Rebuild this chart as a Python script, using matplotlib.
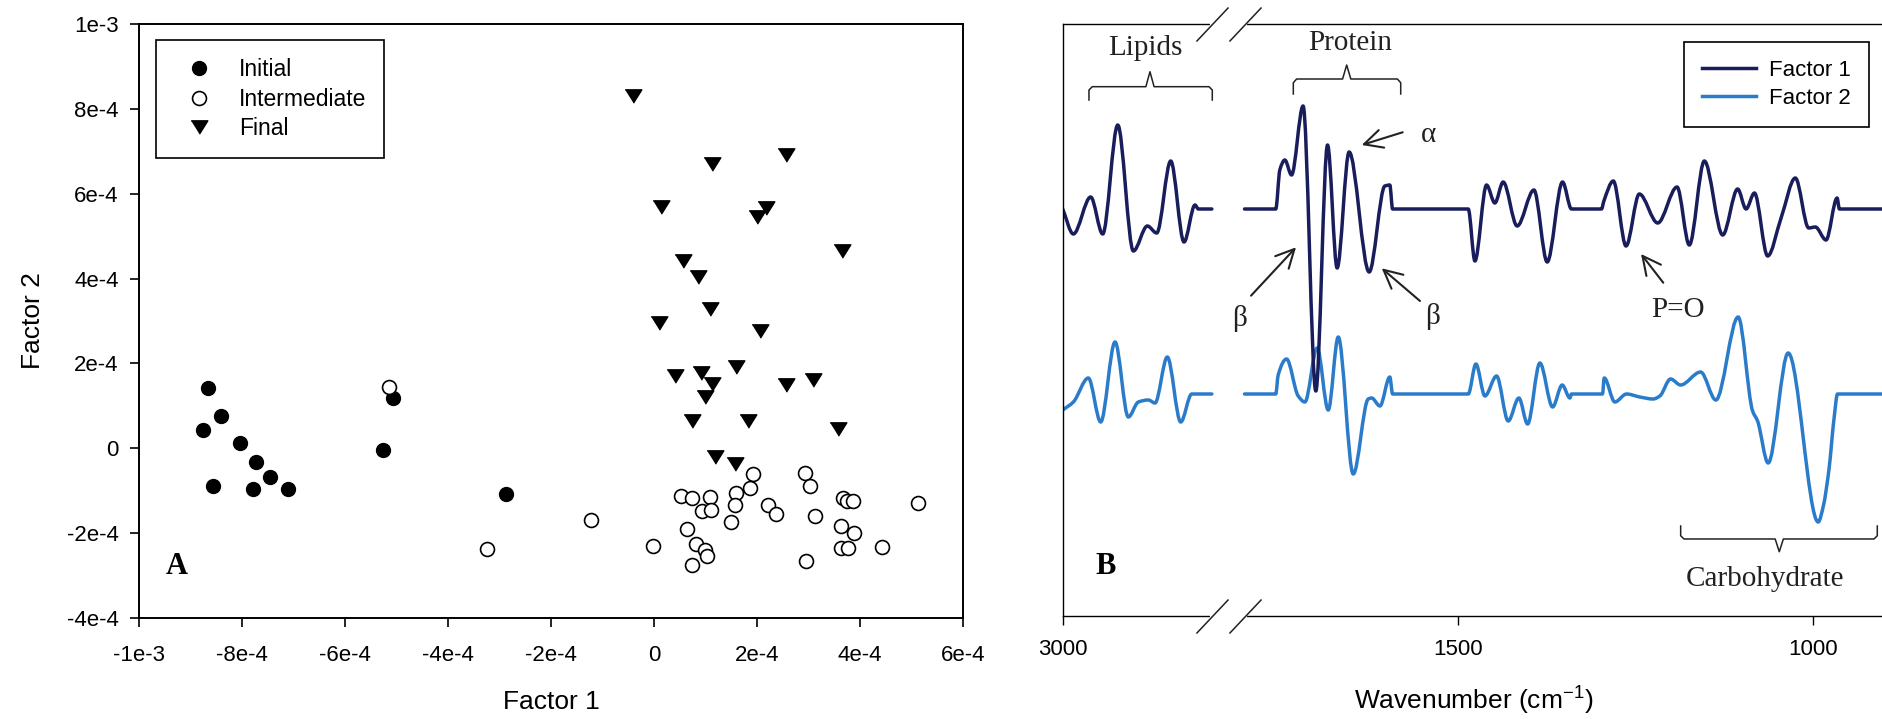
import numpy as np
import matplotlib.pyplot as plt
from matplotlib.path import Path
from matplotlib.patches import PathPatch
from matplotlib.lines import Line2D
from matplotlib.transforms import blended_transform_factory

plt.rcParams['font.family'] = ['Liberation Sans', 'DejaVu Sans']
plt.rcParams['mathtext.fontset'] = 'custom'
plt.rcParams['mathtext.rm'] = 'Liberation Sans'
plt.rcParams['mathtext.default'] = 'regular'

# ---------------- panel A: factor scores (units of 1e-4) ----------------
init_x = [-8.66, -8.40, -8.75, -8.04, -7.72, -7.45, -8.57, -7.78, -7.10, -5.27, -5.06, -2.88]
init_y = [1.41, 0.75, 0.44, 0.12, -0.33, -0.67, -0.90, -0.96, -0.96, -0.04, 1.18, -1.07]

inter_x = [-5.15, -3.25, -1.22, -0.01, 0.52, 0.74, 1.09, 0.94, 1.10, 0.65, 0.81, 1.00,
           1.03, 0.74, 1.59, 1.58, 1.49, 1.93, 1.86, 2.22, 2.36, 2.94, 3.03, 3.12,
           2.95, 3.67, 3.75, 3.86, 3.63, 3.89, 3.64, 3.77, 4.43, 5.13]
inter_y = [1.44, -2.38, -1.70, -2.31, -1.13, -1.16, -1.15, -1.48, -1.45, -1.91, -2.25, -2.40,
           -2.55, -2.76, -1.05, -1.33, -1.74, -0.60, -0.94, -1.34, -1.56, -0.59, -0.88, -1.60,
           -2.65, -1.17, -1.25, -1.25, -1.82, -2.00, -2.36, -2.35, -2.32, -1.30]

final_x = [-0.41, 1.13, 2.57, 0.14, 2.17, 2.00, 3.65, 0.57, 0.85, 1.09, 0.09, 2.06,
           1.60, 0.41, 0.92, 1.12, 0.99, 2.57, 3.08, 0.74, 1.83, 3.58, 1.18, 1.57]
final_y = [8.31, 6.71, 6.91, 5.68, 5.67, 5.44, 4.66, 4.42, 4.03, 3.29, 2.96, 2.76,
           1.91, 1.70, 1.78, 1.52, 1.20, 1.49, 1.60, 0.65, 0.65, 0.46, -0.20, -0.37]

a_xticks = [-10, -8, -6, -4, -2, 0, 2, 4, 6]
a_xlabels = ["-1e-3", "-8e-4", "-6e-4", "-4e-4", "-2e-4", "0", "2e-4", "4e-4", "6e-4"]
a_yticks = [-4, -2, 0, 2, 4, 6, 8, 10]
a_ylabels = ["-4e-4", "-2e-4", "0", "2e-4", "4e-4", "6e-4", "8e-4", "1e-3"]

# ---------------- panel B: factor loadings (arbitrary units) ----------------
# lipid region
wn_lip = [3000, 2985, 2960.6, 2943.7, 2922.5, 2900.5, 2880.8, 2867.6, 2847.9, 2829.2, 2813.7, 2809, 2790]
f1_lip = [0.0, -0.25, 0.12, -0.25, 0.84, -0.42, -0.17, -0.24, 0.48, -0.33, 0.04, 0.0, 0.0]
wn_lip2 = [3000, 2985, 2963.9, 2946.5, 2926.3, 2907.6, 2893.5, 2879.4, 2870, 2852.7, 2833.8, 2818.3, 2790]
f2_lip = [-0.16, -0.08, 0.16, -0.28, 0.52, -0.23, -0.08, -0.06, -0.09, 0.37, -0.28, 0.0, 0.0]

# fingerprint region
wn_fp1 = [1800, 1756, 1750.3, 1743.2, 1733.8, 1717.5, 1699.6, 1683.1, 1669.6, 1652.7,
          1624.5, 1602.4, 1595.4, 1591.5, 1485, 1475.6, 1459.2, 1447.5, 1435.8, 1416.1,
          1392.5, 1373.8, 1352.2, 1339.6, 1297.3, 1294, 1280.7, 1262.8, 1244.1, 1218.2,
          1191, 1173.7, 1152.5, 1126.7, 1105.6, 1093.8, 1082, 1063.4, 1044.5, 1024.4,
          1005.6, 996.2, 981.2, 965.6, 962.4, 900]
f1_fp = [0, 0, 0.39, 0.49, 0.34, 1.03, -1.82, 0.64, -0.59, 0.57,
         -0.63, 0.23, 0.24, 0, 0, -0.52, 0.24, 0.06, 0.27, -0.17,
         0.19, -0.53, 0.27, 0, 0, 0.08, 0.28, -0.37, 0.15, -0.14,
         0.22, -0.36, 0.48, -0.26, 0.20, 0.0, 0.16, -0.47, -0.09, 0.31,
         -0.19, -0.18, -0.31, 0.11, 0, 0]
wn_fp2 = [1800, 1756, 1752.6, 1740.8, 1724.4, 1715, 1697.7, 1682.1, 1668, 1646.9,
          1625.8, 1621, 1609.3, 1595.4, 1591.5, 1485, 1474.2, 1461.5, 1445.1, 1428.7,
          1413.7, 1401.4, 1384.1, 1366.2, 1352.7, 1341.8, 1339.6, 1296, 1293.5, 1278.6,
          1262.1, 1243.4, 1224.6, 1215.2, 1200.1, 1186, 1157.8, 1136.3, 1104.9, 1084.6,
          1077.6, 1062.7, 1034.5, 992.2, 985, 977, 970, 965, 900]
f2_fp = [0, 0, 0.19, 0.35, -0.02, -0.08, 0.46, -0.16, 0.57, -0.80,
         -0.05, -0.04, -0.12, 0.17, 0, 0, 0.30, -0.02, 0.18, -0.27,
         -0.04, -0.30, 0.31, -0.13, 0.09, -0.04, 0, 0, 0.16, -0.08,
         0.0, -0.03, -0.05, -0.02, 0.15, 0.09, 0.22, -0.06, 0.77, -0.17,
         -0.27, -0.69, 0.41, -1.28, -1.12, -0.75, -0.25, 0, 0]

b_xticks = [3000, 1500, 1000]
f1_offset, f2_offset = 4.07, 2.22
c_f1, c_f2 = '#191d5c', '#2a7cca'

fig = plt.figure(figsize=(18.83, 7.19), dpi=100)
W, H = 1883, 719

# ---------------- panel A ----------------
axA = fig.add_axes([139 / W, (H - 618) / H, 824 / W, 594 / H])
tri = [(-1, 0.8), (1, 0.8), (0, -0.8)]
axA.plot(init_x, init_y, 'o', ms=10, mfc='black', mec='black', ls='none', label='Initial')
axA.plot(inter_x, inter_y, 'o', ms=10, mfc='white', mec='black', mew=1.2, ls='none', label='Intermediate')
axA.plot(final_x, final_y, marker=tri, ms=12, mfc='black', mec='black', ls='none', label='Final')
axA.set_xlim(-10, 6)
axA.set_ylim(-4, 10)
axA.set_xticks(a_xticks, a_xlabels)
axA.set_yticks(a_yticks, a_ylabels)
axA.tick_params(direction='out', length=6.5, width=1.2, labelsize=16)
axA.tick_params(axis='x', pad=13)
axA.tick_params(axis='y', pad=8)
for s in axA.spines.values():
    s.set_linewidth(1.4)
axA.set_xlabel('Factor 1', fontsize=19, labelpad=17)
axA.set_ylabel('Factor 2', fontsize=19, labelpad=16)
leg = axA.legend(loc='upper left', bbox_to_anchor=(0.0206, 0.973), borderaxespad=0,
                 fontsize=16.5, frameon=True, fancybox=False, edgecolor='black',
                 framealpha=1, borderpad=0.8, labelspacing=0.27, handlelength=2.13,
                 handletextpad=0.68)
leg.get_frame().set_linewidth(1.2)
axA.text(0.046, 0.0875, 'A', transform=axA.transAxes, fontsize=22, fontweight='bold',
         family='Liberation Serif', ha='center', va='center')

# ---------------- panel B ----------------
def fwd(x):
    x = np.asarray(x, float)
    return np.where(x <= 1800, x, np.where(x >= 2790, x - 2790 + 1846, 1800 + (x - 1800) * 46 / 990))

def inv(u):
    u = np.asarray(u, float)
    return np.where(u <= 1800, u, np.where(u >= 1846, u + 2790 - 1846, 1800 + (u - 1800) * 990 / 46))

def smooth_path(x, y):
    # smooth line through the read points (monotone cubic Bezier segments)
    x = np.asarray(x, float)
    y = np.asarray(y, float)
    h = np.diff(x)
    d = np.diff(y) / h
    m = np.zeros_like(y)
    for i in range(1, len(y) - 1):
        if d[i - 1] * d[i] > 0:
            w1 = 2 * h[i] + h[i - 1]
            w2 = h[i] + 2 * h[i - 1]
            m[i] = (w1 + w2) / (w1 / d[i - 1] + w2 / d[i])
    m[0], m[-1] = d[0], d[-1]
    verts = [(x[0], y[0])]
    codes = [Path.MOVETO]
    for i in range(len(x) - 1):
        t = h[i] / 3
        verts += [(x[i] + t, y[i] + m[i] * t), (x[i + 1] - t, y[i + 1] - m[i + 1] * t), (x[i + 1], y[i + 1])]
        codes += [Path.CURVE4] * 3
    return Path(verts, codes)

axB = fig.add_axes([1062.7 / W, (H - 616) / H, 821 / W, 592 / H])
axB.set_xscale('function', functions=(fwd, inv))
for wn, vals, off, col in [(wn_lip2, f2_lip, f2_offset, c_f2), (wn_fp2, f2_fp, f2_offset, c_f2),
                           (wn_lip, f1_lip, f1_offset, c_f1), (wn_fp1, f1_fp, f1_offset, c_f1)]:
    axB.add_patch(PathPatch(smooth_path(wn, np.array(vals) + off), fill=False, edgecolor=col,
                            lw=2.5, joinstyle='round', capstyle='round'))
axB.set_xlim(3000, 900)
axB.set_ylim(0, 5.92)
axB.set_xticks(b_xticks, [str(t) for t in b_xticks])
axB.set_yticks([])
axB.tick_params(axis='x', direction='out', length=6.5, width=1.0, labelsize=16, pad=10)
axB.spines['right'].set_visible(False)
for s in ['left', 'bottom', 'top']:
    axB.spines[s].set_linewidth(1.0)
axB.set_xlabel('Wavenumber (cm$^{-1}$)', fontsize=19, labelpad=18)
handles = [Line2D([], [], color=c_f1, lw=2.5), Line2D([], [], color=c_f2, lw=2.5)]
legB = axB.legend(handles, ['Factor 1', 'Factor 2'], loc='upper right', bbox_to_anchor=(0.982, 0.9696),
                  borderaxespad=0, fontsize=16, frameon=True, fancybox=False,
                  edgecolor='black', framealpha=1, borderpad=0.81, labelspacing=0.31,
                  handlelength=2.43, handletextpad=0.59)
legB.get_frame().set_linewidth(1.2)

# axis break marks
bt = blended_transform_factory(axB.transData, axB.transAxes)
slash = Path([(-1, -1.06), (1, 1.06)], [Path.MOVETO, Path.LINETO])
for yy in (0, 1):
    axB.plot([2790, 1800], [yy, yy], color='white', lw=3, transform=bt, clip_on=False, zorder=5)
    axB.plot([2790, 1800], [yy, yy], ls='none', marker=slash, ms=24.5, mew=1.1, color='#222222',
             transform=bt, clip_on=False, zorder=6)

serif = 'Liberation Serif'
ann_c = '#222222'

def brace(x0, x1, xc, y_end, y_h, y_tip):
    d = y_h - y_end
    xs = [x0, x0, x0 + 0.004, xc - 0.005, xc, xc + 0.005, x1 - 0.004, x1, x1]
    ys = [y_end, y_end + 0.75 * d, y_h, y_h, y_tip, y_h, y_h, y_end + 0.75 * d, y_end]
    axB.plot(xs, ys, color=ann_c, lw=1.1, transform=axB.transAxes, clip_on=False)

brace(0.032, 0.1822, 0.1063, 0.8716, 0.8941, 0.9194)
brace(0.2809, 0.4117, 0.3459, 0.8818, 0.9071, 0.9307)
brace(0.7527, 0.9922, 0.8728, 0.152, 0.1301, 0.1086)

axB.text(0.1002, 0.9595, 'Lipids', transform=axB.transAxes, fontsize=21, family=serif,
         ha='center', va='center', color=ann_c)
axB.text(0.3499, 0.9679, 'Protein', transform=axB.transAxes, fontsize=21, family=serif,
         ha='center', va='center', color=ann_c)
axB.text(0.8554, 0.062, 'Carbohydrate', transform=axB.transAxes, fontsize=21, family=serif,
         ha='center', va='center', color=ann_c)

arrows = [
    ('\u03b1', (0.4453, 0.8125), (0.4141, 0.8171), (0.3642, 0.7956)),
    ('\u03b2', (0.216, 0.5029), (0.2294, 0.5411), (0.2842, 0.6228)),
    ('\u03b2', (0.4507, 0.5056), (0.4352, 0.5321), (0.3886, 0.5873)),
    ('P=O', (0.7498, 0.5169), (0.7315, 0.563), (0.7044, 0.6115)),
]
for txt, tpos, tail, head in arrows:
    axB.text(tpos[0], tpos[1], txt, transform=axB.transAxes, fontsize=21, family=serif,
             ha='center', va='center', color=ann_c)
    axB.annotate('', xy=head, xytext=tail, xycoords='axes fraction', textcoords='axes fraction',
                 arrowprops=dict(arrowstyle='->, head_length=0.6, head_width=0.3', color=ann_c,
                                 lw=1.5, mutation_scale=22, shrinkA=0, shrinkB=0))

axB.text(0.0527, 0.0833, 'B', transform=axB.transAxes, fontsize=22, fontweight='bold',
         family=serif, ha='center', va='center')

fig.savefig('out.png', dpi=100)
